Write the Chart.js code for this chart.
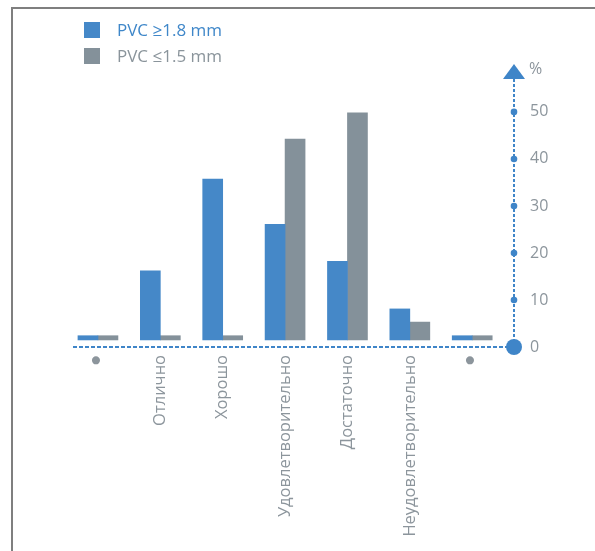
<!DOCTYPE html>
<html>
<head>
<meta charset="utf-8">
<script src="https://cdn.jsdelivr.net/npm/chart.js@4"></script>
<style>
  html, body { margin: 0; padding: 0; background: #fff; }
  #wrap { position: relative; width: 595px; height: 551px; overflow: hidden; }
  #frame { position: absolute; left: 11px; top: 7px; width: 640px; height: 640px;
           border-top: 2px solid #7f7f7f; border-left: 2px solid #7f7f7f; }
  canvas { position: absolute; left: 0; top: 0; }
</style>
</head>
<body>
<div id="wrap">
  <div id="frame"></div>
  <canvas id="chart1" width="595" height="551"></canvas>
</div>
<script>
const categories = ['•', 'Отлично', 'Хорошо', 'Удовлетворительно', 'Достаточно', 'Неудовлетворительно', '•'];
const thickValues = [2.4, 16.2, 35.7, 26.1, 18.2, 8.1, 2.4];
const thinValues = [2.4, 2.4, 2.4, 44.2, 49.8, 5.3, 2.4];
const seriesNames = ['PVC ≥1.8 mm', 'PVC ≤1.5 mm'];
const yTicks = [0, 10, 20, 30, 40, 50];
const yUnit = '%';

const blue = '#4588c8';
const grey = '#84919a';
const textGrey = '#8c959c';
const axisBlue = '#3f85c8';
const fontFamily = '"Open Sans", "Liberation Sans", sans-serif';

function toPoints(values) {
    return values.map((v, i) => ({x: i, y: v}));
}

// dashed axes, dots, arrow and legend, drawn on top of the chart
const decorations = {
    id: 'decorations',
    afterDraw(chart) {
        const ctx = chart.ctx;
        const y = chart.scales.y;
        const area = chart.chartArea;
        const ax = area.right;
        ctx.save();
        ctx.strokeStyle = axisBlue;
        ctx.lineWidth = 2;
        ctx.setLineDash([4, 2]);
        ctx.beginPath();
        ctx.moveTo(area.left, area.bottom);
        ctx.lineTo(ax, area.bottom);
        ctx.stroke();
        ctx.setLineDash([3, 2]);
        ctx.beginPath();
        ctx.moveTo(ax, area.bottom);
        ctx.lineTo(ax, area.top);
        ctx.stroke();
        ctx.setLineDash([]);

        ctx.fillStyle = axisBlue;
        yTicks.forEach(t => {
            const py = y.getPixelForValue(t);
            ctx.beginPath();
            ctx.arc(ax, py, t === 0 ? 8 : 3.3, 0, Math.PI * 2);
            ctx.fill();
        });
        // arrow head
        ctx.beginPath();
        ctx.moveTo(ax - 11, area.top);
        ctx.lineTo(ax + 11, area.top);
        ctx.lineTo(ax, area.top - 15);
        ctx.closePath();
        ctx.fill();
        // unit
        ctx.font = '16px ' + fontFamily;
        ctx.fillStyle = textGrey;
        ctx.textBaseline = 'middle';
        ctx.textAlign = 'left';
        ctx.fillText(yUnit, ax + 15, area.top - 10);
        // legend
        ctx.font = '17px ' + fontFamily;
        chart.data.datasets.forEach((ds, i) => {
            const top = 22 + i * 26;
            ctx.fillStyle = ds.backgroundColor;
            ctx.fillRect(84, top, 16, 16);
            ctx.fillStyle = ds.legendColor;
            ctx.fillText(ds.label, 117, top + 9);
        });
        ctx.restore();
    }
};

const ctx1 = document.getElementById('chart1').getContext('2d');
window.bar1 = new Chart(ctx1, {
    type: 'bar',
    data: {
        datasets: [{
            label: seriesNames[0],
            data: toPoints(thickValues),
            backgroundColor: blue,
            legendColor: '#3f87c9',
            base: 1.5,
            barThickness: 20
        }, {
            label: seriesNames[1],
            data: toPoints(thinValues),
            backgroundColor: grey,
            legendColor: '#8a949b',
            base: 1.5,
            barThickness: 20
        }]
    },
    options: {
        responsive: false,
        animation: false,
        devicePixelRatio: 1,
        layout: {padding: {left: 73, top: 79, right: 0, bottom: 0}},
        plugins: {legend: {display: false}, tooltip: {enabled: false}},
        scales: {
            x: {
                type: 'linear',
                min: -0.4,
                max: 6.67,
                offset: false,
                grid: {display: false, drawTicks: false},
                border: {display: false},
                ticks: {
                    stepSize: 1,
                    includeBounds: false,
                    autoSkip: false,
                    minRotation: 90,
                    maxRotation: 90,
                    padding: 8,
                    color: textGrey,
                    font: c => (c.tick && categories[c.tick.value] === '•'
                        ? {family: '"Liberation Sans", sans-serif', size: 30}
                        : {family: fontFamily, size: 16.5}),
                    callback: v => categories[v] !== undefined ? categories[v] : ''
                },
                afterFit: s => { s.height = 204; }
            },
            y: {
                position: 'right',
                min: 0,
                max: 57,
                grid: {display: false, drawTicks: false},
                border: {display: false},
                ticks: {
                    stepSize: 10,
                    includeBounds: false,
                    padding: 16,
                    color: textGrey,
                    font: {family: fontFamily, size: 16},
                    callback: v => yTicks.includes(v) ? v : ''
                },
                afterFit: s => { s.width = 81; }
            }
        }
    },
    plugins: [decorations]
});
</script>
</body>
</html>
